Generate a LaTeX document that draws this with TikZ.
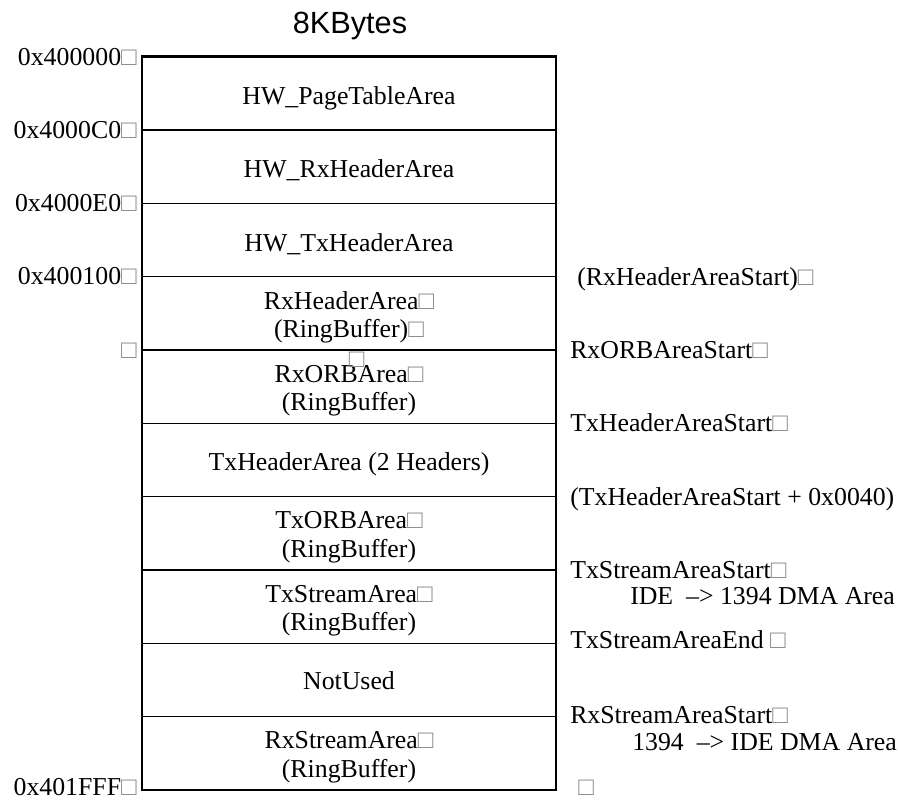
\documentclass[tikz,border=0pt]{standalone}
\usepackage{fontspec}
\setmainfont{Liberation Serif}
\newfontfamily\titrefont{Liberation Sans}
\usetikzlibrary{positioning}

\newcommand{\tofu}{\textcolor{black!45}{□}}

\begin{document}
\begin{tikzpicture}[x=0.75pt,y=-0.75pt,font=\fontsize{19.35}{21.4}\selectfont,
	zone/.style={align=center,inner sep=0pt},
	adresse/.style={anchor=base east,inner sep=0pt},
	repere/.style={anchor=base west,inner sep=0pt}]

\useasboundingbox (0,0) rectangle (898,800);

%Dimensions du plan mémoire
\def \gauche{142}
\def \droite{556}
\def \haut{56.7}
\def \hzone{73.33}
\def \milieu{349}
\def \xadresse{137}
\def \xrepere{570}

%Titre
\node[font=\titrefont\fontsize{23}{26}\selectfont,anchor=base] (titre) at (350,33) {8KBytes};

%Séparations
\draw[line width=1pt] (\gauche,\haut+1*\hzone) -- (\droite,\haut+1*\hzone);
\draw[line width=1pt] (\gauche,\haut+2*\hzone) -- (\droite,\haut+2*\hzone);
\draw[line width=1pt] (\gauche,\haut+3*\hzone) -- (\droite,\haut+3*\hzone);
\draw[line width=1pt] (\gauche,\haut+4*\hzone) -- (\droite,\haut+4*\hzone);
\draw[line width=1pt] (\gauche,\haut+5*\hzone) -- (\droite,\haut+5*\hzone);
\draw[line width=1pt] (\gauche,\haut+6*\hzone) -- (\droite,\haut+6*\hzone);
\draw[line width=1pt] (\gauche,\haut+7*\hzone) -- (\droite,\haut+7*\hzone);
\draw[line width=1pt] (\gauche,\haut+8*\hzone) -- (\droite,\haut+8*\hzone);
\draw[line width=1pt] (\gauche,\haut+9*\hzone) -- (\droite,\haut+9*\hzone);

%Bloc mémoire
\draw[line width=1.9pt] (\gauche,\haut) rectangle (\droite,\haut+10*\hzone);

%Zones
\node[zone,anchor=base] (pagetable) at (\milieu,\haut+0.5*\hzone+11) {HW\_PageTableArea};
\node[zone,anchor=base] (hwrxheader) at (\milieu,\haut+1.5*\hzone+11) {HW\_RxHeaderArea};
\node[zone,anchor=base] (hwtxheader) at (\milieu,\haut+2.5*\hzone+11) {HW\_TxHeaderArea};
\node[zone] (rxheader) at (\milieu,\haut+3.5*\hzone+4) {RxHeaderArea\tofu\\(RingBuffer)\tofu};
\node[zone] (rxorb) at (\milieu,\haut+4.5*\hzone+4) {RxORBArea\tofu\\(RingBuffer)};
\node[zone,anchor=base] (txheader) at (\milieu,\haut+5.5*\hzone+10) {TxHeaderArea (2 Headers)};
\node[zone] (txorb) at (\milieu,\haut+6.5*\hzone+4) {TxORBArea\tofu\\(RingBuffer)};
\node[zone] (txstream) at (\milieu,\haut+7.5*\hzone+4) {TxStreamArea\tofu\\(RingBuffer)};
\node[zone,anchor=base] (notused) at (\milieu,\haut+8.5*\hzone+9) {NotUsed};
\node[zone] (rxstream) at (\milieu,\haut+9.5*\hzone+4) {RxStreamArea\tofu\\(RingBuffer)};
\node[anchor=base,inner sep=0pt] (vide) at (356.7,367) {\tofu};

%Adresses
\node[adresse] (adr0) at (\xadresse,\haut+8.3) {0x400000\tofu};
\node[adresse] (adr1) at (\xadresse,\haut+1*\hzone+8.3) {0x4000C0\tofu};
\node[adresse] (adr2) at (\xadresse,\haut+2*\hzone+8.3) {0x4000E0\tofu};
\node[adresse] (adr3) at (\xadresse,\haut+3*\hzone+8.3) {0x400100\tofu};
\node[adresse] (adr4) at (\xadresse,\haut+4*\hzone+8.3) {\tofu};
\node[adresse] (adrfin) at (\xadresse,795) {0x401FFF\tofu};

%Repères
\node[repere] (rxhdrstart) at (577,\haut+3*\hzone+8.5) {(RxHeaderAreaStart)\tofu};
\node[repere] (rxorbstart) at (\xrepere,\haut+4*\hzone+8.5) {RxORBAreaStart\tofu};
\node[repere] (txhdrstart) at (\xrepere,\haut+5*\hzone+8.5) {TxHeaderAreaStart\tofu};
\node[repere] (txhdrsuite) at (\xrepere,\haut+6*\hzone+8.5) {(TxHeaderAreaStart + 0x0040)};
\node[repere] (txstreamstart) at (\xrepere,\haut+7*\hzone+8.5) {TxStreamAreaStart\tofu};
\node[repere] (dmaide) at (630,604) {IDE\ \ –> 1394 DMA Area};
\node[repere] (txstreamend) at (\xrepere,648) {TxStreamAreaEnd \tofu};
\node[repere] (rxstreamstart) at (\xrepere,723) {RxStreamAreaStart\tofu};
\node[repere] (dma1394) at (632,750) {1394\ \ –> IDE DMA Area};
\node[repere] (fin) at (\xrepere+8,795) {\tofu};

\end{tikzpicture}
\end{document}
